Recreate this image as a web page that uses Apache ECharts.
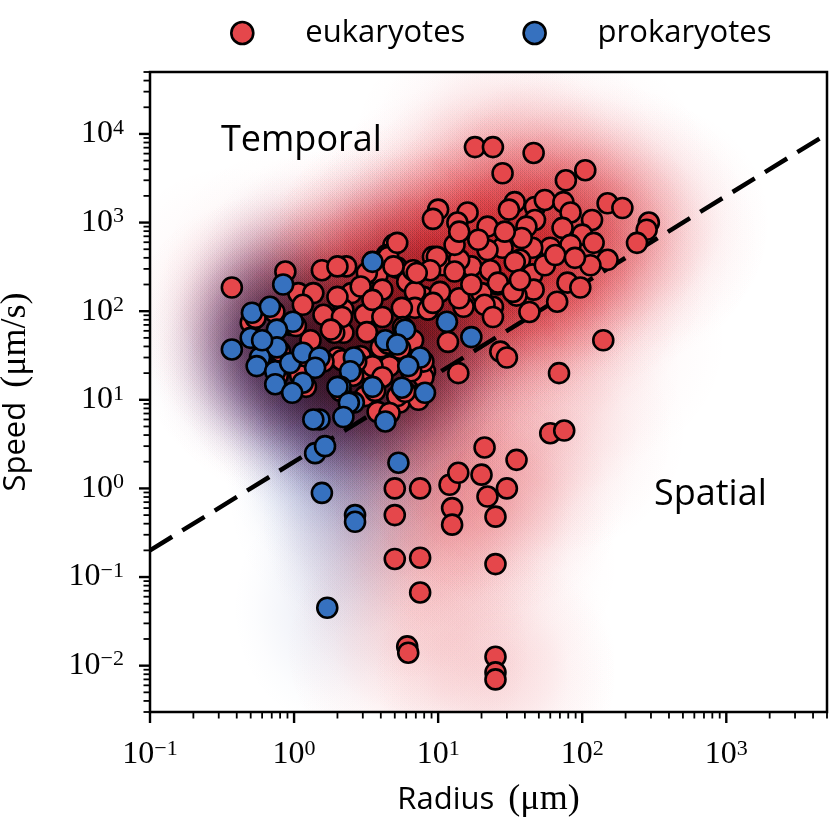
<!DOCTYPE html>
<html>
<head>
<meta charset="utf-8">
<script src="https://cdn.jsdelivr.net/npm/echarts@6/dist/echarts.min.js"></script>
<style>
  html, body { margin: 0; padding: 0; background: #fff; }
  #chart { width: 830px; height: 822px; }
</style>
</head>
<body>
<div id="chart"></div>
<script>
// radius (um), speed (um/s)
var eukaryotes = [
    [18, 7100], [24, 7100], [46, 6100], [28, 3600], [105, 3900], [77, 3000],
    [10, 1400], [9.2, 1100], [16, 1300], [13.6, 1000], [22, 900], [34, 1700], [31, 1400],
    [47, 1500], [55, 1800], [74, 1700], [83, 1300], [47, 1070], [41, 900], [73, 870],
    [117, 1070], [150, 1650], [190, 1460], [290, 1000], [280, 830], [240, 590], [150, 380],
    [100, 730], [120, 590], [83, 560], [60, 520], [45, 520], [37, 380], [28, 520], [22, 490],
    [17, 320], [10.8, 330], [9.2, 410], [14, 380], [23, 290], [26, 200], [45, 260], [46, 175],
    [35, 150], [67, 128], [79, 210], [97, 185], [20, 160], [15, 112], [43, 98], [24, 112], [7.9, 145],
    [4.9, 560], [4.4, 430], [5.2, 310], [2.3, 320], [3.8, 260], [6.1, 215], [9.8, 410], [8.8, 290],
    [13, 280], [34, 360], [38, 670], [26, 210], [33, 165], [14, 140], [10.3, 165], [6.9, 165],
    [4.1, 175], [2.5, 160], [6.9, 109], [8.5, 104], [5.6, 109], [3.1, 91], [2.2, 104], [21, 118],
    [24, 86], [11.7, 45], [27, 35], [30, 30], [13.8, 20], [2.2, 57], [3.2, 58], [4.0, 39], [4.6, 24],
    [6.7, 47], [5.4, 9.3], [3.8, 7.3], [3.2, 22], [8.1, 21], [7.3, 10],
    [0.37, 185], [0.87, 280], [1.56, 290], [2.0, 320], [1.07, 160], [1.36, 160], [2.0, 145],
    [1.15, 118], [1.6, 91], [2.15, 86], [0.5, 74], [1.9, 57], [2.0, 30], [2.45, 22],
    [4.5, 410], [5.2, 590], [6.7, 290], [3.2, 270], [4.9, 320],
    [5.0, 1.0], [7.5, 1.0], [5.0, 0.5], [5.0, 0.16], [7.5, 0.165], [7.5, 0.067], [6.1, 0.0165],
    [6.2, 0.014], [12, 1.1], [13.8, 1.5], [12.5, 0.6], [12.5, 0.39], [21, 2.9], [20, 1.43],
    [22, 0.81], [30, 1.0], [35, 2.1], [25, 0.48], [25, 0.14], [25, 0.0126], [25, 0.0084], [25, 0.007],
    [60, 4.2], [75, 4.5], [69, 20], [140, 47],
    [2.9, 190], [3.5, 134], [4.1, 86], [5.7, 66], [9.2, 124], [7.1, 270],
    [29, 790], [55, 330], [65, 430], [37, 225], [17, 200], [13, 560], [19, 640], [114, 330],
    [89, 400], [14, 790],
    // partly hidden behind the prokaryote cluster
    [2.15, 28], [2.9, 31], [3.5, 24], [4.1, 18], [3.1, 11], [6.7, 28], [7.9, 18], [5.2, 11],
    [4.6, 7.1], [0.68, 47], [0.94, 70], [1.3, 47], [1.1, 19], [1.8, 62],
    [0.54, 84], [0.73, 98], [1.03, 68], [0.8, 35], [0.6, 27], [0.77, 18.7], [1.21, 31], [1.6, 27],
    [1.21, 14], [2.7, 27], [2.57, 18.7], [3.65, 12.6], [4.5, 43], [5.45, 37.6], [7.9, 27], [6.5, 21],
    [5.9, 12.3], [2.1, 12.6]
];

var prokaryotes = [
    [3.5, 360], [11.5, 76], [17, 51], [5.9, 62], [4.3, 47], [5.2, 42], [7.5, 30], [6.2, 24],
    [2.6, 30], [2.45, 21], [2.1, 14], [3.5, 14], [2.6, 9.3], [5.6, 13.7], [8.1, 12], [4.3, 5.7],
    [0.84, 200], [0.51, 96], [0.68, 112], [0.98, 76], [0.76, 62], [0.5, 50], [0.37, 37], [0.76, 39],
    [0.58, 30], [0.55, 24], [0.74, 21], [0.94, 26], [1.15, 34], [1.5, 30], [1.4, 23], [1.15, 15.6],
    [0.74, 15], [0.97, 12], [2.0, 14], [1.5, 6.0], [1.36, 6.0], [2.4, 9.3], [2.2, 6.4], [1.4, 2.5],
    [1.64, 3.0], [1.56, 0.89], [2.65, 0.5], [2.65, 0.42], [5.3, 1.95], [1.7, 0.045], [0.6, 47]
];

// speed = 2 * radius boundary
var boundaryX = [0.1, 5000];
var boundaryY = [0.2, 10000];

var xRange = [0.1, 5000];
var yRange = [0.003, 50000];

var SANS = "'Open Sans', 'DejaVu Sans', sans-serif";
var SERIF = "'Liberation Serif', 'DejaVu Serif', serif";

var RED = '#e5474b';
var BLUE = '#3671bf';

/* tick positions for the log axes: 1..9 x 10^k */
function logTicks(lo, hi) {
    var out = [];
    for (var e = Math.floor(Math.log10(lo)); e <= Math.ceil(Math.log10(hi)); e++) {
        for (var m = 1; m <= 9; m++) {
            var v = m * Math.pow(10, e);
            if (v >= lo * 0.999 && v <= hi * 1.001) out.push([v, m === 1 ? 1 : 0]);
        }
    }
    return out;
}

function tickLabel(v) {
    var l = Math.log10(v);
    var e = Math.round(l);
    if (Math.abs(l - e) > 1e-6) return '';
    return '{b|10}{e|' + (e < 0 ? '\u2212' + (-e) : e) + '}';
}

/* soft density blobs (multiplied onto the white background) */
var profile = [[0, 1], [0.15, 0.93], [0.3, 0.76], [0.45, 0.55], [0.6, 0.34], [0.75, 0.17], [0.9, 0.05], [1, 0]];
function makeBlob(rgb, alpha, r, sx, sy) {
    return function (params, api) {
        var p = api.coord([api.value(0), api.value(1)]);
        var stops = profile.map(function (s) {
            return { offset: s[0], color: 'rgba(' + rgb + ',' + (alpha * s[1]).toFixed(4) + ')' };
        });
        return {
            type: 'circle',
            x: p[0], y: p[1],
            scaleX: sx, scaleY: sy,
            shape: { cx: 0, cy: 0, r: r },
            style: { fill: new echarts.graphic.RadialGradient(0.5, 0.5, 0.5, stops), blend: 'multiply' },
            silent: true
        };
    };
}

var chart = echarts.init(document.getElementById('chart'), null, { renderer: 'canvas' });

var tickRich = {
    b: { fontFamily: SERIF, fontSize: 32, color: '#000', lineHeight: 34 },
    e: { fontFamily: SERIF, fontSize: 22, color: '#000', verticalAlign: 'top', lineHeight: 22 }
};

var option = {
    animation: false,
    backgroundColor: '#fff',
    legend: {
        top: 12,
        left: 225,
        itemWidth: 116,
        itemHeight: 22,
        itemGap: 57,
        icon: 'circle',
        selectedMode: false,
        data: ['eukaryotes', 'prokaryotes'],
        itemStyle: { borderColor: '#000', borderWidth: 2.6 },
        textStyle: { fontFamily: SANS, fontSize: 31, color: '#000', lineHeight: 32 }
    },
    grid: {
        left: 150, right: 3, top: 72, bottom: 110,
        containLabel: false,
        outerBoundsMode: 'none',
        show: true,
        borderColor: '#000',
        borderWidth: 2.5,
        backgroundColor: 'transparent'
    },
    xAxis: {
        type: 'log',
        logBase: 10,
        min: xRange[0],
        max: xRange[1],
        name: 'Radius {m|(\u03bcm)}',
        nameLocation: 'middle',
        nameGap: 70,
        nameTextStyle: {
            fontFamily: SANS, fontSize: 31, color: '#000',
            rich: { m: { fontFamily: SERIF, fontSize: 36, color: '#000', padding: [0, 0, 0, 6] } }
        },
        axisLine: { show: false },
        axisTick: { show: false },
        splitLine: { show: false },
        axisLabel: { margin: 26, formatter: tickLabel, rich: tickRich }
    },
    yAxis: {
        type: 'log',
        logBase: 10,
        min: yRange[0],
        max: yRange[1],
        name: 'Speed {m|(\u03bcm/s)}',
        nameLocation: 'middle',
        nameGap: 116,
        nameRotate: 90,
        nameTextStyle: {
            fontFamily: SANS, fontSize: 31, color: '#000',
            rich: { m: { fontFamily: SERIF, fontSize: 36, color: '#000', padding: [0, 0, 0, 6] } }
        },
        axisLine: { show: false },
        axisTick: { show: false },
        splitLine: { show: false },
        axisLabel: { margin: 26, formatter: tickLabel, rich: tickRich }
    },
    graphic: [
        {
            type: 'text', left: 221, top: 123, z: 10,
            style: { text: 'Temporal', font: '36px ' + SANS, fill: '#000' }
        },
        {
            type: 'text', left: 654, top: 477, z: 10,
            style: { text: 'Spatial', font: '36px ' + SANS, fill: '#000' }
        }
    ],
    series: [
        {
            name: 'eukDensity',
            type: 'custom',
            clip: true,
            silent: true,
            z: 1,
            blendMode: 'multiply',
            renderItem: makeBlob('225,50,62', 0.062, 125, 1, 1),
            data: eukaryotes
        },
        {
            name: 'proDensity',
            type: 'custom',
            clip: true,
            silent: true,
            z: 1,
            blendMode: 'multiply',
            renderItem: makeBlob('60,85,170', 0.1, 120, 0.8, 1),
            data: prokaryotes
        },
        {
            name: 'boundary',
            type: 'line',
            z: 2,
            silent: true,
            symbol: 'none',
            lineStyle: { color: '#000', width: 4.5, type: [26, 12] },
            data: boundaryX.map(function (x, i) { return [x, boundaryY[i]]; })
        },
        {
            name: 'eukaryotes',
            type: 'scatter',
            z: 3,
            symbolSize: 20,
            itemStyle: { color: RED, borderColor: '#000', borderWidth: 2.6, opacity: 1 },
            emphasis: { disabled: true },
            data: eukaryotes
        },
        {
            name: 'prokaryotes',
            type: 'scatter',
            z: 4,
            symbolSize: 20,
            itemStyle: { color: BLUE, borderColor: '#000', borderWidth: 2.6, opacity: 1 },
            emphasis: { disabled: true },
            data: prokaryotes
        },
        {
            name: 'xTicks',
            type: 'custom',
            clip: false,
            silent: true,
            z: 5,
            renderItem: function (params, api) {
                var x = api.coord([api.value(0), yRange[0]])[0];
                var y0 = params.coordSys.y + params.coordSys.height;
                var major = api.value(1) === 1;
                return {
                    type: 'line',
                    shape: { x1: x, y1: y0, x2: x, y2: y0 + (major ? 11 : 6.5) },
                    style: { stroke: '#000', lineWidth: major ? 2.4 : 1.8 }
                };
            },
            data: logTicks(xRange[0], xRange[1])
        },
        {
            name: 'yTicks',
            type: 'custom',
            clip: false,
            silent: true,
            z: 5,
            renderItem: function (params, api) {
                var y = api.coord([xRange[0], api.value(0)])[1];
                var x0 = params.coordSys.x;
                var major = api.value(1) === 1;
                return {
                    type: 'line',
                    shape: { x1: x0, y1: y, x2: x0 - (major ? 11 : 6.5), y2: y },
                    style: { stroke: '#000', lineWidth: major ? 2.4 : 1.8 }
                };
            },
            data: logTicks(yRange[0], yRange[1])
        }
    ]
};

chart.setOption(option);
</script>
</body>
</html>
